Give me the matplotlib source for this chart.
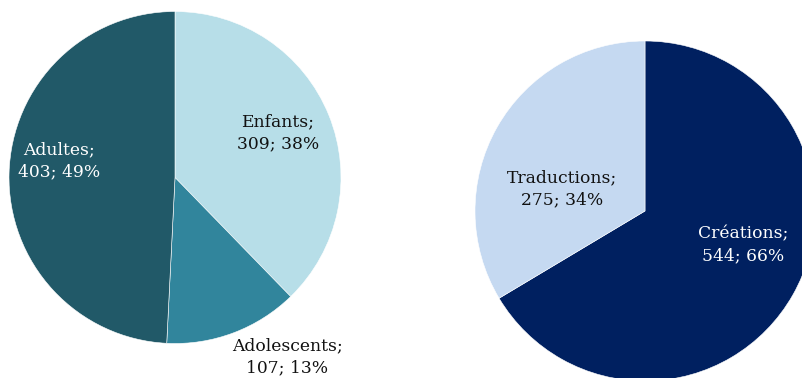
import matplotlib
matplotlib.use('Agg')
import matplotlib.pyplot as plt

# public par âge
age_labels = ['Enfants', 'Adolescents', 'Adultes']
age_values = [309, 107, 403]
age_pct = [38, 13, 49]

# origine des titres
orig_labels = ['Créations', 'Traductions']
orig_values = [544, 275]
orig_pct = [66, 34]

W, H = 803, 378
fig = plt.figure(figsize=(W / 100, H / 100), dpi=100)
plt.rcParams['font.family'] = ['DejaVu Serif']


def pix_axes(cx, cy, r):
    # square axes in pixel units, y measured from top
    return fig.add_axes([(cx - r) / W, (H - cy - r) / H, 2 * r / W, 2 * r / H])


def draw_pie(ax, values, labels, pcts, colors, txt_colors, txt_pos):
    ax.pie(values, colors=colors, startangle=90, counterclock=False,
           wedgeprops=dict(edgecolor='white', linewidth=0.4))
    ax.set_xlim(-1, 1)
    ax.set_ylim(-1, 1)
    ax.set_aspect('auto')
    ax.axis('off')
    for lab, v, p, c, (x, y) in zip(labels, values, pcts, txt_colors, txt_pos):
        ax.text(x, y, f'{lab};\n{v}; {p}%', ha='center', va='center',
                color=c, fontsize=12.3, linespacing=1.35, clip_on=False)


ax1 = pix_axes(175, 177.5, 166)
draw_pie(ax1, age_values, age_labels, age_pct,
         ['#B7DEE8', '#31859C', '#215968'],
         ['#111111', '#111111', 'white'],
         [(0.62, 0.27), (0.675, -1.08), (-0.70, 0.10)])

ax2 = pix_axes(645, 211, 170)
draw_pie(ax2, orig_values, orig_labels, orig_pct,
         ['#002060', '#C5D9F1'],
         ['white', '#111111'],
         [(0.576, -0.20), (-0.49, 0.13)])

fig.savefig('out.png', dpi=100)
